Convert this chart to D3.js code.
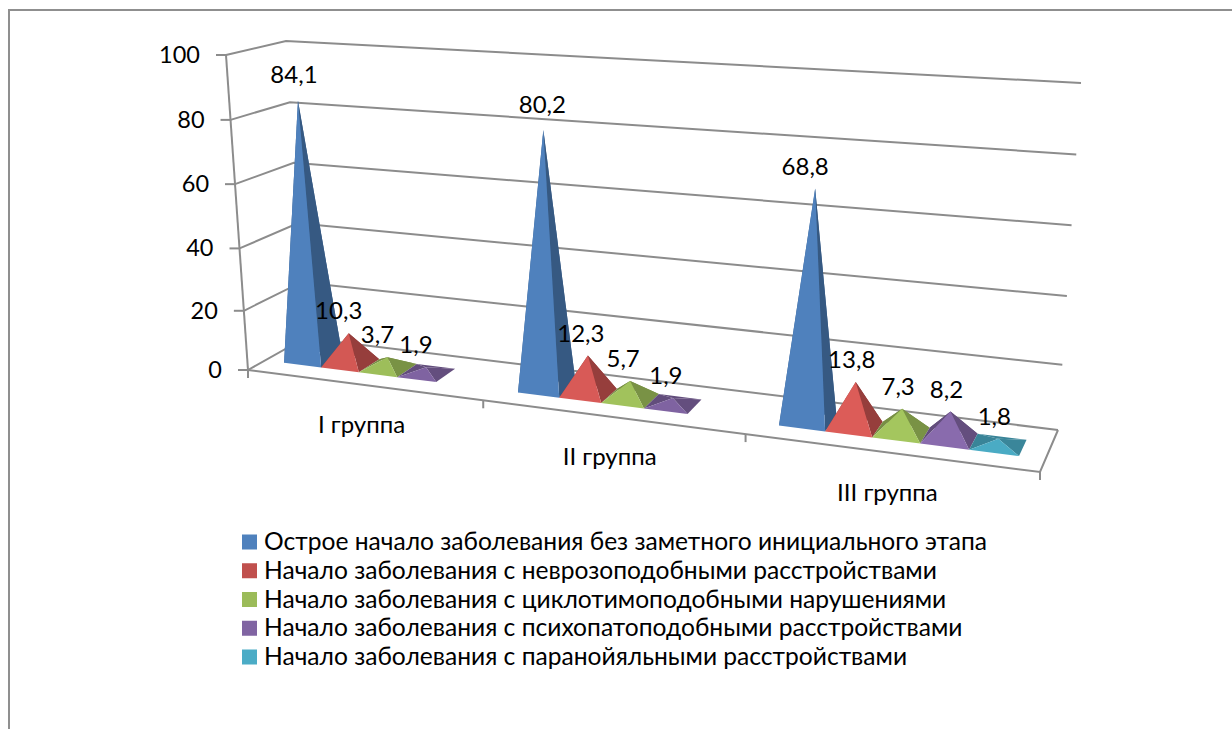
<!DOCTYPE html>
<html>
<head>
<meta charset="utf-8">
<script src="https://cdn.jsdelivr.net/npm/d3@7"></script>
<style>
  html, body { margin: 0; padding: 0; background: #fff; overflow: hidden; }
  text { font-family: Lato, "Noto Sans", sans-serif; fill: #000; }
</style>
</head>
<body>
<div id="chart"></div>
<script>
let categories = ["I группа", "II группа", "III группа"];
let seriesNames = [
  "Острое начало заболевания без заметного инициального этапа",
  "Начало заболевания с неврозоподобными расстройствами",
  "Начало заболевания с циклотимоподобными нарушениями",
  "Начало заболевания с психопатоподобными расстройствами",
  "Начало заболевания с паранойяльными расстройствами"
];
let acuteValues = [84.1, 80.2, 68.8];
let neuroticValues = [10.3, 12.3, 13.8];
let cyclothymicValues = [3.7, 5.7, 7.3];
let psychopathicValues = [1.9, 1.9, 8.2];
let paranoidValues = [null, null, 1.8];
let seriesColors = ["#4f81bd", "#c0504d", "#9bbb59", "#8064a2", "#4bacc6"];

let seriesValues = [acuteValues, neuroticValues, cyclothymicValues, psychopathicValues, paranoidValues];

let width = 1232, height = 729;

// corners of the 3d box on screen
let floorBox = { fl: [248, 370], fr: [1040, 472], bl: [305, 338], br: [1058, 430] };
let topBox = { fl: [226, 55], fr: [1067, 103], bl: [286, 41], br: [1081, 83] };
let persp = -0.155;     // foreshortening along the category axis
let depthFront = 0.3, depthBack = 0.69;

let svg = d3.select("#chart")
  .append("svg")
  .attr("width", width)
  .attr("height", height)
  .style("display", "block")
  .style("background-color", "#fff");

let xScale = d3.scaleBand().domain(categories).range([0, 1]);
let slotScale = d3.scaleBand().domain(d3.range(seriesNames.length))
  .range([0, xScale.bandwidth()]).paddingInner(0).paddingOuter(0.52);
// walls get slightly shorter towards the floor
let yScale = d3.scaleLinear()
  .domain([0, 20, 40, 60, 80, 100])
  .range([0, 0.188, 0.386, 0.59, 0.794, 1]);

function lerp(a, b, t) {
  return d3.interpolate(a, b)(t);
}

function onPlane(box, u, d) {
  let f = u * (1 + persp) / (1 + persp * u);
  return lerp(lerp(box.fl, box.fr, f), lerp(box.bl, box.br, f), d);
}

function project(u, value, d) {
  return lerp(onPlane(floorBox, u, d), onPlane(topBox, u, d), yScale(value));
}

let line = d3.line();
let gridColor = "#8c8c8c";

// outer chart frame, it runs off the picture on the right and at the bottom
let frame = svg.append("g")
  .attr("fill", "none")
  .attr("stroke", "#8f8f8f")
  .attr("stroke-width", 2);
frame.append("path").attr("d", line([[9, height], [9, 10], [width, 10]]));

let grid = svg.append("g")
  .attr("fill", "none")
  .attr("stroke", gridColor)
  .attr("stroke-width", 2);

yScale.ticks(5).forEach(function (t) {
  grid.append("path")
    .attr("d", line([project(0, t, 0), project(0, t, 1), project(1, t, 1)]));
  let p = project(0, t, 0);
  grid.append("path").attr("d", line([[p[0] - 10, p[1]], p]));
  svg.append("text")
    .attr("x", p[0] - 26)
    .attr("y", p[1] + 2)
    .attr("text-anchor", "end")
    .attr("dominant-baseline", "middle")
    .style("font-size", "23.5px")
    .text(t);
});

// left axis, floor edges and category ticks
grid.append("path").attr("d", line([project(0, 0, 0), project(0, 100, 0)]));
grid.append("path").attr("d", line([project(0, 0, 0), project(1, 0, 0), project(1, 0, 1)]));
d3.range(categories.length + 1).forEach(function (i) {
  let p = project(i / categories.length, 0, 0);
  grid.append("path").attr("d", line([p, [p[0], p[1] + 8]]));
});

categories.forEach(function (c) {
  let p = project(xScale(c) + xScale.bandwidth() / 2, 0, 0);
  svg.append("text")
    .attr("x", p[0] - 1)
    .attr("y", p[1] + 42)
    .attr("text-anchor", "middle")
    .attr("dominant-baseline", "middle")
    .style("font-size", "24px")
    .text(c);
});

// pyramids, painted left to right and back faces first
let marks = svg.append("g");
let labels = [];
categories.forEach(function (c, i) {
  seriesNames.forEach(function (s, k) {
    let value = seriesValues[k][i];
    if (value === null) return;
    let u0 = xScale(c) + slotScale(k);
    let u1 = u0 + slotScale.bandwidth();
    let uc = (u0 + u1) / 2, dc = (depthFront + depthBack) / 2;
    let fl = project(u0, 0, depthFront), fr = project(u1, 0, depthFront);
    let bl = project(u0, 0, depthBack), br = project(u1, 0, depthBack);
    let apex = project(uc, value, dc);
    let base = d3.color(seriesColors[k]);
    // the steeper the face, the more light it catches
    let front = k === 0 ? base : base.brighter((value - 2.5) / 30);
    let side = base.darker(k === 0 ? 1.05 : 0.7);
    let back = base.darker(0.75);
    [[bl, br, apex, back], [fl, bl, apex, back], [fr, br, apex, side], [fl, fr, apex, front]]
      .forEach(function (f) {
        marks.append("path")
          .attr("d", line(f.slice(0, 3)) + "Z")
          .attr("fill", f[3]);
      });
    labels.push({ value: value, apex: apex, tall: k === 0, i: i });
  });
});

labels.forEach(function (d) {
  let dx = d.tall ? [-4, -1, -10][d.i] : [-10, -7, -4][d.i];
  let dy = d.tall ? [-24, -23, -20][d.i] : -20;
  svg.append("text")
    .attr("x", d.apex[0] + dx)
    .attr("y", d.apex[1] + dy)
    .attr("text-anchor", "middle")
    .attr("dominant-baseline", "middle")
    .style("font-size", "24px")
    .text(String(d.value).replace(".", ","));
});

// legend
let legendY = d3.scalePoint().domain(seriesNames).range([542, 657]);
let legend = svg.append("g");
seriesNames.forEach(function (s, k) {
  legend.append("rect")
    .attr("x", 242)
    .attr("y", legendY(s) - 7.5)
    .attr("width", 15)
    .attr("height", 15)
    .attr("fill", seriesColors[k]);
  legend.append("text")
    .attr("x", 264)
    .attr("y", legendY(s) + 2)
    .attr("dominant-baseline", "middle")
    .style("font-size", "24.6px")
    .text(s);
});
</script>
</body>
</html>
